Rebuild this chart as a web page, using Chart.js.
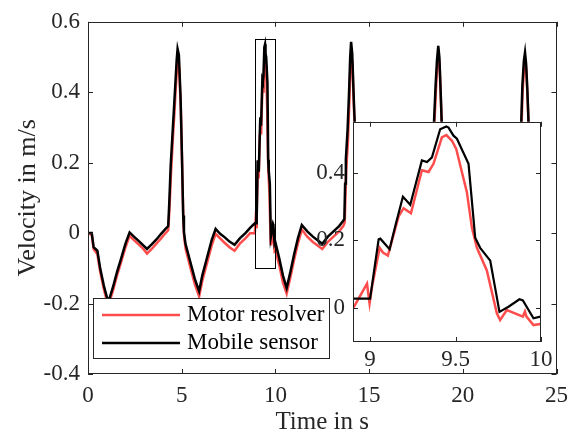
<!DOCTYPE html>
<html><head><meta charset="utf-8">
<script src="https://cdn.jsdelivr.net/npm/chart.js@4"></script>
<style>
html,body{margin:0;padding:0;background:#fff;}
#wrap{position:relative;width:576px;height:439px;overflow:hidden;}
#main{position:absolute;left:0;top:0;}
#inset{position:absolute;left:300px;top:100px;}
</style></head><body>
<div id="wrap"><canvas id="main" width="576" height="439"></canvas><canvas id="inset" width="260" height="280"></canvas></div>
<script>
// ---------------- data ----------------
const seriesNames = ['Motor resolver', 'Mobile sensor'];

const resolverTime = [0.00,0.20,0.30,0.50,0.65,0.85,1.05,1.15,1.35,1.55,1.75,2.00,2.22,2.45,2.70,2.95,3.15,3.40,3.65,3.90,4.10,4.28,4.35,4.42,4.53,4.61,4.68,4.74,4.79,4.86,4.95,5.02,5.09,5.13,5.21,5.45,5.70,5.93,6.10,6.35,6.60,6.81,7.05,7.30,7.55,7.82,8.10,8.40,8.65,8.90,
 8.982,8.997,9.011,9.056,9.075,9.104,9.167,9.196,9.239,9.303,9.342,9.371,9.42,9.446,9.479,9.504,9.537,9.566,9.596,9.625,9.683,9.742,9.761,9.80,9.894,9.906,9.915,9.956,9.995,
 10.20,10.40,10.60,10.80,11.00,11.20,11.41,11.70,12.00,12.25,12.50,12.80,13.10,13.40,13.62,13.70,13.74,13.78,13.87,13.95,14.00,14.05,14.11,14.18,14.25,14.31,14.37,14.45,14.70,14.95,15.20,15.45,15.75,16.05,16.30,16.60,16.90,17.15,17.45,17.80,18.15,18.30,18.39,18.46,18.56,18.63,18.70,18.76,18.83,18.88,18.96,19.03,19.25,19.55,19.85,20.10,20.40,20.65,20.95,21.30,21.70,22.00,22.35,22.70,22.95,23.06,23.12,23.19,23.27,23.33,23.39,23.46,23.52,23.58,23.64,23.75,23.90];
const resolverVelocity = [0.000,-0.005,-0.045,-0.060,-0.110,-0.160,-0.200,-0.195,-0.160,-0.120,-0.085,-0.040,-0.008,-0.020,-0.032,-0.045,-0.058,-0.045,-0.030,-0.015,-0.002,0.008,0.070,0.160,0.270,0.340,0.410,0.460,0.490,0.470,0.360,0.200,0.030,-0.010,-0.045,-0.095,-0.145,-0.180,-0.135,-0.085,-0.035,-0.002,-0.015,-0.028,-0.040,-0.050,-0.030,-0.015,0.000,-0.001,
 0.072,0.014,0.062,0.178,0.164,0.155,0.271,0.295,0.280,0.407,0.402,0.426,0.504,0.511,0.494,0.470,0.402,0.343,0.237,0.178,0.111,-0.016,-0.035,-0.006,-0.025,-0.010,-0.025,-0.050,-0.047,
 -0.090,-0.140,-0.172,-0.125,-0.075,-0.030,0.010,-0.010,-0.025,-0.035,-0.045,-0.025,-0.010,0.005,0.020,0.030,0.110,0.180,0.260,0.380,0.470,0.505,0.480,0.370,0.270,0.090,-0.015,-0.045,-0.095,-0.145,-0.175,-0.125,-0.065,0.005,-0.010,-0.030,-0.045,-0.050,-0.030,-0.005,0.015,0.025,0.130,0.280,0.400,0.470,0.505,0.480,0.380,0.300,0.080,-0.025,-0.075,-0.135,-0.175,-0.125,-0.055,0.005,-0.015,-0.035,-0.050,-0.035,-0.010,0.010,0.020,0.100,0.280,0.400,0.470,0.490,0.460,0.380,0.290,0.100,-0.015,-0.055,-0.085];

const sensorTime = [0.00,0.20,0.30,0.50,0.65,0.85,1.05,1.15,1.35,1.55,1.75,2.00,2.22,2.45,2.70,2.95,3.15,3.40,3.65,3.90,4.10,4.28,4.34,4.41,4.52,4.60,4.67,4.73,4.78,4.85,4.94,5.01,5.08,5.12,5.20,5.45,5.70,5.93,6.10,6.35,6.60,6.81,7.05,7.30,7.55,7.82,8.10,8.40,8.65,8.90,
 9.00,9.05,9.06,9.114,9.147,9.192,9.235,9.303,9.333,9.362,9.41,9.446,9.459,9.488,9.508,9.576,9.615,9.644,9.703,9.757,9.81,9.874,9.894,9.956,9.995,
 10.20,10.40,10.60,10.80,11.00,11.20,11.41,11.70,12.00,12.25,12.50,12.80,13.10,13.40,13.62,13.68,13.72,13.76,13.85,13.93,13.99,14.04,14.10,14.17,14.24,14.30,14.36,14.45,14.70,14.95,15.20,15.45,15.75,16.05,16.30,16.60,16.90,17.15,17.45,17.80,18.15,18.30,18.38,18.45,18.55,18.62,18.69,18.75,18.82,18.87,18.95,19.02,19.25,19.55,19.85,20.10,20.40,20.65,20.95,21.30,21.70,22.00,22.35,22.70,22.95,23.05,23.11,23.18,23.26,23.32,23.38,23.45,23.51,23.57,23.63,23.75,23.90];
const sensorVelocity = [0.000,0.000,-0.040,-0.050,-0.100,-0.150,-0.190,-0.185,-0.150,-0.110,-0.075,-0.030,0.002,-0.010,-0.022,-0.035,-0.045,-0.032,-0.018,-0.002,0.010,0.020,0.090,0.189,0.292,0.366,0.432,0.490,0.523,0.506,0.385,0.227,0.050,0.003,-0.030,-0.080,-0.130,-0.165,-0.120,-0.070,-0.020,0.012,-0.002,-0.012,-0.024,-0.033,-0.015,0.000,0.015,0.028,
 0.028,0.203,0.205,0.174,0.242,0.329,0.305,0.436,0.431,0.445,0.528,0.536,0.533,0.509,0.500,0.426,0.208,0.178,0.140,-0.011,0.004,0.026,0.023,-0.030,-0.025,
 -0.070,-0.120,-0.156,-0.110,-0.060,-0.015,0.023,0.005,-0.010,-0.020,-0.030,-0.010,0.005,0.020,0.035,0.040,0.140,0.210,0.292,0.400,0.500,0.543,0.510,0.400,0.300,0.120,0.000,-0.030,-0.080,-0.130,-0.160,-0.110,-0.050,0.020,0.005,-0.015,-0.030,-0.035,-0.015,0.010,0.030,0.040,0.150,0.300,0.420,0.490,0.532,0.500,0.400,0.320,0.100,-0.010,-0.060,-0.120,-0.160,-0.110,-0.040,0.020,0.000,-0.020,-0.035,-0.020,0.005,0.025,0.035,0.120,0.300,0.420,0.490,0.513,0.480,0.400,0.310,0.120,0.000,-0.040,-0.070];

const xTicksMain = [0, 5, 10, 15, 20, 25];
const xTickLabelsMain = ['0', '5', '10', '15', '20', '25'];
const yTicksMain = [-0.4, -0.2, 0, 0.2, 0.4, 0.6];
const yTickLabelsMain = ['-0.4', '-0.2', '0', '0.2', '0.4', '0.6'];
const xTicksInset = [9, 9.5, 10];
const xTickLabelsInset = ['9', '9.5', '10'];
const yTicksInset = [0, 0.2, 0.4];
const yTickLabelsInset = ['0', '0.2', '0.4'];
const zoomX = [8.9, 10];
const zoomY = [-0.1, 0.55];

// ---------------- styling ----------------
const RED = '#ff4d4d';
const BLACK = '#000000';
const AXIS = '#262626';
const FONT = "'Liberation Serif', 'Times New Roman', serif";
Chart.defaults.font.family = FONT;
Chart.defaults.color = AXIS;

function pts(t, v) { return t.map((x, i) => ({ x: x, y: v[i] })); }
function setTicks(values) { return function (scale) { scale.ticks = values.map(v => ({ value: v })); }; }

function frame(chart, len) {
  const { ctx, chartArea: a, scales: { x, y } } = chart;
  ctx.save();
  ctx.strokeStyle = AXIS;
  ctx.lineWidth = 1;
  ctx.beginPath();
  x.ticks.forEach(t => {
    const p = Math.round(x.getPixelForValue(t.value)) + 0.5;
    ctx.moveTo(p, a.bottom); ctx.lineTo(p, a.bottom - len);
    ctx.moveTo(p, a.top); ctx.lineTo(p, a.top + len);
  });
  y.ticks.forEach(t => {
    const p = Math.round(y.getPixelForValue(t.value)) + 0.5;
    ctx.moveTo(a.left, p); ctx.lineTo(a.left + len, p);
    ctx.moveTo(a.right, p); ctx.lineTo(a.right - len, p);
  });
  ctx.stroke();
  ctx.strokeRect(Math.round(a.left) + 0.5, Math.round(a.top) + 0.5, Math.round(a.right - a.left) - 1, Math.round(a.bottom - a.top) - 1);
  ctx.restore();
}

const mainPlugin = {
  id: 'mainDecor',
  afterDatasetsDraw(chart) {
    const { ctx, scales: { x, y } } = chart;
    frame(chart, 5);
    // zoom rectangle
    ctx.save();
    ctx.strokeStyle = BLACK;
    ctx.lineWidth = 1;
    const x0 = Math.round(x.getPixelForValue(zoomX[0])) + 0.5, x1 = Math.round(x.getPixelForValue(zoomX[1])) + 0.5;
    const y0 = Math.round(y.getPixelForValue(zoomY[1])) + 0.5, y1 = Math.round(y.getPixelForValue(zoomY[0])) + 0.5;
    ctx.strokeRect(x0, y0, x1 - x0, y1 - y0);
    // legend
    const lx = 93.5, ly = 298.5, lw = 236, lh = 60;
    ctx.fillStyle = '#fff';
    ctx.fillRect(lx, ly, lw, lh);
    ctx.strokeStyle = AXIS;
    ctx.strokeRect(lx, ly, lw, lh);
    const rows = [315, 343];
    chart.data.datasets.forEach((ds, i) => {
      ctx.strokeStyle = ds.borderColor;
      ctx.lineWidth = 2.5;
      ctx.beginPath(); ctx.moveTo(102, rows[i]); ctx.lineTo(180, rows[i]); ctx.stroke();
      ctx.fillStyle = '#000';
      ctx.font = "23px " + FONT;
      ctx.textBaseline = 'middle';
      ctx.textAlign = 'left';
      ctx.fillText(ds.label, 187, rows[i]);
    });
    ctx.restore();
  }
};

new Chart(document.getElementById('main'), {
  type: 'line',
  data: {
    datasets: [
      { label: seriesNames[0], data: pts(resolverTime, resolverVelocity), borderColor: RED, borderWidth: 2.5, pointRadius: 0, order: 1, tension: 0 },
      { label: seriesNames[1], data: pts(sensorTime, sensorVelocity), borderColor: BLACK, borderWidth: 2.5, pointRadius: 0, order: 0, tension: 0 }
    ]
  },
  options: {
    responsive: false, animation: false, devicePixelRatio: 1,
    layout: { padding: { top: 16, right: 17, left: 0, bottom: 0 } },
    plugins: { legend: { display: false }, tooltip: { enabled: false } },
    scales: {
      x: {
        type: 'linear', min: 0, max: 25,
        afterBuildTicks: setTicks(xTicksMain),
        afterFit(s) { s.height = 65; },
        grid: { display: false, drawTicks: false }, border: { display: false },
        ticks: { padding: 8, maxRotation: 0, font: { size: 23 }, color: AXIS, callback: (v, i) => xTickLabelsMain[i] },
        title: { display: true, text: 'Time in s', font: { size: 25 }, color: AXIS, padding: { top: 0, bottom: 2 } }
      },
      y: {
        type: 'linear', min: -0.4, max: 0.6,
        afterBuildTicks: setTicks(yTicksMain),
        afterFit(s) { s.width = 88; },
        grid: { display: false, drawTicks: false }, border: { display: false },
        ticks: { padding: 8, font: { size: 23 }, color: AXIS, callback: (v, i) => yTickLabelsMain[i] },
        title: { display: true, text: 'Velocity in m/s', font: { size: 26 }, color: AXIS, padding: { top: 13, bottom: 0 } }
      }
    }
  },
  plugins: [mainPlugin]
});

const insetPlugin = {
  id: 'insetDecor',
  beforeDatasetsDraw(chart) {
    const { ctx, chartArea: a } = chart;
    ctx.save(); ctx.fillStyle = '#fff'; ctx.fillRect(a.left, a.top, a.right - a.left, a.bottom - a.top); ctx.restore();
  },
  afterDatasetsDraw(chart) { frame(chart, 5); }
};

new Chart(document.getElementById('inset'), {
  type: 'line',
  data: {
    datasets: [
      { label: seriesNames[0], data: pts(resolverTime, resolverVelocity), borderColor: RED, borderWidth: 2.5, pointRadius: 0, order: 1, tension: 0 },
      { label: seriesNames[1], data: pts(sensorTime, sensorVelocity), borderColor: BLACK, borderWidth: 2.2, pointRadius: 0, order: 0, tension: 0 }
    ]
  },
  options: {
    responsive: false, animation: false, devicePixelRatio: 1,
    layout: { padding: { top: 19, right: 19, left: 0, bottom: 0 } },
    plugins: { legend: { display: false }, tooltip: { enabled: false } },
    scales: {
      x: {
        type: 'linear', min: zoomX[0], max: zoomX[1],
        afterBuildTicks: setTicks(xTicksInset),
        afterFit(s) { s.height = 38; },
        grid: { display: false, drawTicks: false }, border: { display: false },
        ticks: { padding: 4, maxRotation: 0, font: { size: 23 }, color: AXIS, callback: (v, i) => xTickLabelsInset[i] }
      },
      y: {
        type: 'linear', min: zoomY[0], max: zoomY[1],
        afterBuildTicks: setTicks(yTicksInset),
        afterFit(s) { s.width = 53; },
        grid: { display: false, drawTicks: false }, border: { display: false },
        ticks: { padding: 8, font: { size: 23 }, color: AXIS, callback: (v, i) => yTickLabelsInset[i] }
      }
    }
  },
  plugins: [insetPlugin]
});
</script>
</body></html>
